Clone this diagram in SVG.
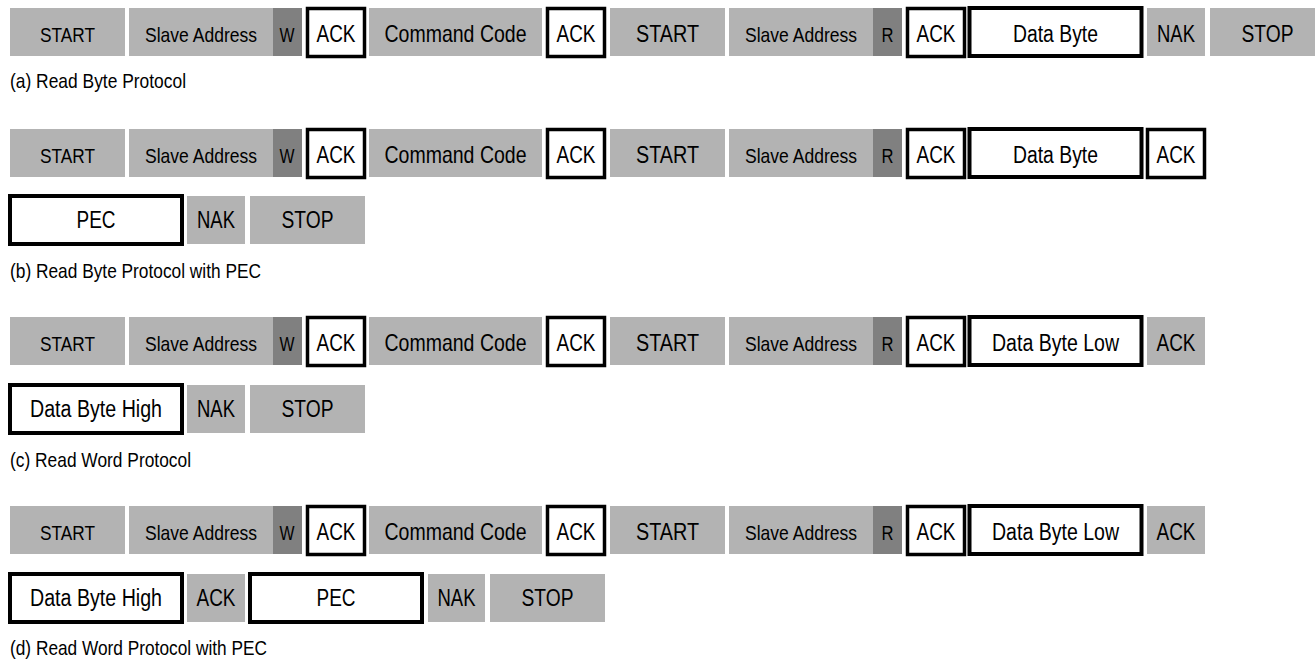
<svg xmlns="http://www.w3.org/2000/svg" width="1315" height="659" viewBox="0 0 1315 659">
<style>
.g{fill:#b3b3b3}
.d{fill:#808080}
.w{fill:#fff;stroke:#000;stroke-width:3.5}
.wb{fill:#fff;stroke:#000;stroke-width:4}
text{font-family:"Liberation Sans Narrow","Liberation Sans",Arial,sans-serif;fill:#000;text-anchor:middle;font-size:23px}
.s1{font-size:20.5px}
.sa{font-size:21px}
.rw{font-size:20px}
.cc{font-size:24px}
.s2{font-size:23.5px}
.cap{font-size:21px;text-anchor:start}
</style>
<rect width="1315" height="659" fill="#fff"/>

<g id="row-a">
<g id="a-start1"><rect class="g" x="10" y="8" width="115" height="48"/><text class="s1" x="67.5" y="42" textLength="55" lengthAdjust="spacingAndGlyphs">START</text></g>
<g id="a-addr1"><rect class="g" x="129" y="8" width="144" height="48"/><text class="sa" x="201" y="42" textLength="112" lengthAdjust="spacingAndGlyphs">Slave Address</text></g>
<g id="a-w"><rect class="d" x="273" y="8" width="29" height="48"/><text class="rw" x="287" y="42" textLength="15" lengthAdjust="spacingAndGlyphs">W</text></g>
<g id="a-ack1"><rect class="w" x="307.5" y="8.5" width="57" height="48"/><text x="336" y="42" textLength="39" lengthAdjust="spacingAndGlyphs">ACK</text></g>
<g id="a-cmd"><rect class="g" x="369" y="8" width="173" height="48"/><text class="cc" x="455.5" y="42" textLength="142" lengthAdjust="spacingAndGlyphs">Command Code</text></g>
<g id="a-ack2"><rect class="w" x="547.5" y="8.5" width="57" height="48"/><text x="576" y="42" textLength="39" lengthAdjust="spacingAndGlyphs">ACK</text></g>
<g id="a-start2"><rect class="g" x="610" y="8" width="115" height="48"/><text class="s2" x="667.5" y="42" textLength="63" lengthAdjust="spacingAndGlyphs">START</text></g>
<g id="a-addr2"><rect class="g" x="729" y="8" width="144" height="48"/><text class="sa" x="801" y="42" textLength="112" lengthAdjust="spacingAndGlyphs">Slave Address</text></g>
<g id="a-r"><rect class="d" x="873" y="8" width="29" height="48"/><text class="rw" x="887.5" y="42" textLength="12" lengthAdjust="spacingAndGlyphs">R</text></g>
<g id="a-ack3"><rect class="w" x="907.5" y="8.5" width="57" height="48"/><text x="936" y="42" textLength="39" lengthAdjust="spacingAndGlyphs">ACK</text></g>
<g id="a-data"><rect class="wb" x="969.5" y="8" width="172" height="48"/><text class="s2" x="1055.5" y="42" textLength="85" lengthAdjust="spacingAndGlyphs">Data Byte</text></g>
<g id="a-nak"><rect class="g" x="1147" y="8" width="58" height="48"/><text x="1176" y="42" textLength="38" lengthAdjust="spacingAndGlyphs">NAK</text></g>
<g id="a-stop"><rect class="g" x="1210" y="8" width="115" height="48"/><text x="1267.5" y="42" textLength="52" lengthAdjust="spacingAndGlyphs">STOP</text></g>
<text class="cap" x="10" y="88" textLength="176" lengthAdjust="spacingAndGlyphs">(a) Read Byte Protocol</text>
</g>

<g id="row-b">
<g id="b-start1"><rect class="g" x="10" y="129" width="115" height="48"/><text class="s1" x="67.5" y="163" textLength="55" lengthAdjust="spacingAndGlyphs">START</text></g>
<g id="b-addr1"><rect class="g" x="129" y="129" width="144" height="48"/><text class="sa" x="201" y="163" textLength="112" lengthAdjust="spacingAndGlyphs">Slave Address</text></g>
<g id="b-w"><rect class="d" x="273" y="129" width="29" height="48"/><text class="rw" x="287" y="163" textLength="15" lengthAdjust="spacingAndGlyphs">W</text></g>
<g id="b-ack1"><rect class="w" x="307.5" y="129.5" width="57" height="48"/><text x="336" y="163" textLength="39" lengthAdjust="spacingAndGlyphs">ACK</text></g>
<g id="b-cmd"><rect class="g" x="369" y="129" width="173" height="48"/><text class="cc" x="455.5" y="163" textLength="142" lengthAdjust="spacingAndGlyphs">Command Code</text></g>
<g id="b-ack2"><rect class="w" x="547.5" y="129.5" width="57" height="48"/><text x="576" y="163" textLength="39" lengthAdjust="spacingAndGlyphs">ACK</text></g>
<g id="b-start2"><rect class="g" x="610" y="129" width="115" height="48"/><text class="s2" x="667.5" y="163" textLength="63" lengthAdjust="spacingAndGlyphs">START</text></g>
<g id="b-addr2"><rect class="g" x="729" y="129" width="144" height="48"/><text class="sa" x="801" y="163" textLength="112" lengthAdjust="spacingAndGlyphs">Slave Address</text></g>
<g id="b-r"><rect class="d" x="873" y="129" width="29" height="48"/><text class="rw" x="887.5" y="163" textLength="12" lengthAdjust="spacingAndGlyphs">R</text></g>
<g id="b-ack3"><rect class="w" x="907.5" y="129.5" width="57" height="48"/><text x="936" y="163" textLength="39" lengthAdjust="spacingAndGlyphs">ACK</text></g>
<g id="b-data"><rect class="wb" x="969.5" y="129" width="172" height="48"/><text class="s2" x="1055.5" y="163" textLength="85" lengthAdjust="spacingAndGlyphs">Data Byte</text></g>
<g id="b-ack4"><rect class="w" x="1147.5" y="129.5" width="57" height="48"/><text x="1176" y="163" textLength="39" lengthAdjust="spacingAndGlyphs">ACK</text></g>
<g id="b-pec"><rect class="wb" x="10" y="196" width="172" height="48"/><text x="96" y="228" textLength="39" lengthAdjust="spacingAndGlyphs">PEC</text></g>
<g id="b-nak"><rect class="g" x="187" y="196" width="58" height="48"/><text x="216" y="228" textLength="38" lengthAdjust="spacingAndGlyphs">NAK</text></g>
<g id="b-stop"><rect class="g" x="250" y="196" width="115" height="48"/><text x="307.5" y="228" textLength="52" lengthAdjust="spacingAndGlyphs">STOP</text></g>
<text class="cap" x="10" y="278" textLength="251" lengthAdjust="spacingAndGlyphs">(b) Read Byte Protocol with PEC</text>
</g>

<g id="row-c">
<g id="c-start1"><rect class="g" x="10" y="317" width="115" height="48"/><text class="s1" x="67.5" y="351" textLength="55" lengthAdjust="spacingAndGlyphs">START</text></g>
<g id="c-addr1"><rect class="g" x="129" y="317" width="144" height="48"/><text class="sa" x="201" y="351" textLength="112" lengthAdjust="spacingAndGlyphs">Slave Address</text></g>
<g id="c-w"><rect class="d" x="273" y="317" width="29" height="48"/><text class="rw" x="287" y="351" textLength="15" lengthAdjust="spacingAndGlyphs">W</text></g>
<g id="c-ack1"><rect class="w" x="307.5" y="317.5" width="57" height="48"/><text x="336" y="351" textLength="39" lengthAdjust="spacingAndGlyphs">ACK</text></g>
<g id="c-cmd"><rect class="g" x="369" y="317" width="173" height="48"/><text class="cc" x="455.5" y="351" textLength="142" lengthAdjust="spacingAndGlyphs">Command Code</text></g>
<g id="c-ack2"><rect class="w" x="547.5" y="317.5" width="57" height="48"/><text x="576" y="351" textLength="39" lengthAdjust="spacingAndGlyphs">ACK</text></g>
<g id="c-start2"><rect class="g" x="610" y="317" width="115" height="48"/><text class="s2" x="667.5" y="351" textLength="63" lengthAdjust="spacingAndGlyphs">START</text></g>
<g id="c-addr2"><rect class="g" x="729" y="317" width="144" height="48"/><text class="sa" x="801" y="351" textLength="112" lengthAdjust="spacingAndGlyphs">Slave Address</text></g>
<g id="c-r"><rect class="d" x="873" y="317" width="29" height="48"/><text class="rw" x="887.5" y="351" textLength="12" lengthAdjust="spacingAndGlyphs">R</text></g>
<g id="c-ack3"><rect class="w" x="907.5" y="317.5" width="57" height="48"/><text x="936" y="351" textLength="39" lengthAdjust="spacingAndGlyphs">ACK</text></g>
<g id="c-datalow"><rect class="wb" x="969.5" y="317" width="172" height="48"/><text class="s2" x="1055.5" y="351" textLength="127" lengthAdjust="spacingAndGlyphs">Data Byte Low</text></g>
<g id="c-ack4"><rect class="g" x="1147" y="317" width="58" height="48"/><text x="1176" y="351" textLength="39" lengthAdjust="spacingAndGlyphs">ACK</text></g>
<g id="c-datahigh"><rect class="wb" x="10" y="385" width="172" height="48"/><text class="s2" x="96" y="417" textLength="132" lengthAdjust="spacingAndGlyphs">Data Byte High</text></g>
<g id="c-nak"><rect class="g" x="187" y="385" width="58" height="48"/><text x="216" y="417" textLength="38" lengthAdjust="spacingAndGlyphs">NAK</text></g>
<g id="c-stop"><rect class="g" x="250" y="385" width="115" height="48"/><text x="307.5" y="417" textLength="52" lengthAdjust="spacingAndGlyphs">STOP</text></g>
<text class="cap" x="10" y="467" textLength="181" lengthAdjust="spacingAndGlyphs">(c) Read Word Protocol</text>
</g>

<g id="row-d">
<g id="d-start1"><rect class="g" x="10" y="506" width="115" height="48"/><text class="s1" x="67.5" y="540" textLength="55" lengthAdjust="spacingAndGlyphs">START</text></g>
<g id="d-addr1"><rect class="g" x="129" y="506" width="144" height="48"/><text class="sa" x="201" y="540" textLength="112" lengthAdjust="spacingAndGlyphs">Slave Address</text></g>
<g id="d-w"><rect class="d" x="273" y="506" width="29" height="48"/><text class="rw" x="287" y="540" textLength="15" lengthAdjust="spacingAndGlyphs">W</text></g>
<g id="d-ack1"><rect class="w" x="307.5" y="506.5" width="57" height="48"/><text x="336" y="540" textLength="39" lengthAdjust="spacingAndGlyphs">ACK</text></g>
<g id="d-cmd"><rect class="g" x="369" y="506" width="173" height="48"/><text class="cc" x="455.5" y="540" textLength="142" lengthAdjust="spacingAndGlyphs">Command Code</text></g>
<g id="d-ack2"><rect class="w" x="547.5" y="506.5" width="57" height="48"/><text x="576" y="540" textLength="39" lengthAdjust="spacingAndGlyphs">ACK</text></g>
<g id="d-start2"><rect class="g" x="610" y="506" width="115" height="48"/><text class="s2" x="667.5" y="540" textLength="63" lengthAdjust="spacingAndGlyphs">START</text></g>
<g id="d-addr2"><rect class="g" x="729" y="506" width="144" height="48"/><text class="sa" x="801" y="540" textLength="112" lengthAdjust="spacingAndGlyphs">Slave Address</text></g>
<g id="d-r"><rect class="d" x="873" y="506" width="29" height="48"/><text class="rw" x="887.5" y="540" textLength="12" lengthAdjust="spacingAndGlyphs">R</text></g>
<g id="d-ack3"><rect class="w" x="907.5" y="506.5" width="57" height="48"/><text x="936" y="540" textLength="39" lengthAdjust="spacingAndGlyphs">ACK</text></g>
<g id="d-datalow"><rect class="wb" x="969.5" y="506" width="172" height="48"/><text class="s2" x="1055.5" y="540" textLength="127" lengthAdjust="spacingAndGlyphs">Data Byte Low</text></g>
<g id="d-ack4"><rect class="g" x="1147" y="506" width="58" height="48"/><text x="1176" y="540" textLength="39" lengthAdjust="spacingAndGlyphs">ACK</text></g>
<g id="d-datahigh"><rect class="wb" x="10" y="574" width="172" height="48"/><text class="s2" x="96" y="606" textLength="132" lengthAdjust="spacingAndGlyphs">Data Byte High</text></g>
<g id="d-ack5"><rect class="g" x="187" y="574" width="58" height="48"/><text x="216" y="606" textLength="39" lengthAdjust="spacingAndGlyphs">ACK</text></g>
<g id="d-pec"><rect class="wb" x="250" y="574" width="172" height="48"/><text x="336" y="606" textLength="39" lengthAdjust="spacingAndGlyphs">PEC</text></g>
<g id="d-nak"><rect class="g" x="428" y="574" width="57" height="48"/><text x="456.5" y="606" textLength="38" lengthAdjust="spacingAndGlyphs">NAK</text></g>
<g id="d-stop"><rect class="g" x="490" y="574" width="115" height="48"/><text x="547.5" y="606" textLength="52" lengthAdjust="spacingAndGlyphs">STOP</text></g>
<text class="cap" x="10" y="655" textLength="257" lengthAdjust="spacingAndGlyphs">(d) Read Word Protocol with PEC</text>
</g>
</svg>
